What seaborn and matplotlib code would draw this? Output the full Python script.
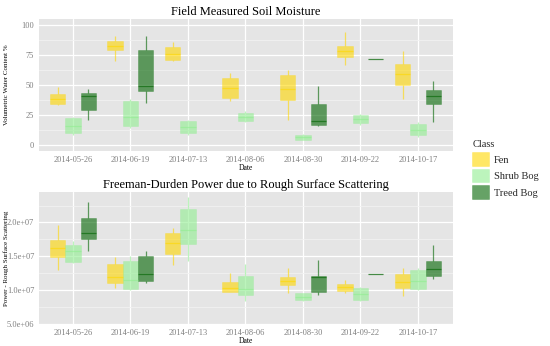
import numpy as np
import pandas as pd
import matplotlib
matplotlib.use("Agg")
import matplotlib.pyplot as plt
from matplotlib.patches import Patch
from matplotlib.colors import to_rgba
import seaborn as sns

# ---------------- data (five-number summaries: low whisker, Q1, median, Q3, high whisker)
dates = ['2014-05-26', '2014-06-19', '2014-07-13', '2014-08-06',
         '2014-08-30', '2014-09-22', '2014-10-17']
classes = ['Fen', 'Shrub Bog', 'Treed Bog']

sm_fen = [[33, 34.5, 38, 42.5, 48], [70, 79, 82.7, 86.4, 90.5], [70, 70.8, 75.8, 81.4, 85.5],
          [37, 38.8, 47.5, 55.5, 60], [20.5, 37.2, 47, 58, 62.7], [67, 73, 78, 82.2, 93.8],
          [38.6, 50.2, 59.4, 67.7, 78]]
sm_shrub = [[8, 9.7, 16, 22.5, 23], [14, 15.5, 23.5, 37, 38], [8, 9.7, 14.7, 20, 21],
            [19, 20, 23, 26.3, 28], [4, 4.4, 6.5, 8.6, 9], [17, 18.3, 21.7, 25.2, 26],
            [7, 8.6, 12.7, 17.5, 19]]
sm_treed = [[20.5, 29.2, 40.8, 43, 47], [35, 45.2, 49, 79, 90.5], None, None,
            [15.5, 17, 20.3, 34.4, 49.4], [71.5, 71.5, 71.5, 71.5, 71.5],
            [19, 34.4, 40.8, 46, 53.3]]

pw_fen = [[12.9e6, 14.8e6, 16.2e6, 17.33e6, 19.6e6], [10.35e6, 11.0e6, 11.9e6, 13.8e6, 14.9e6],
          [13.7e6, 15.3e6, 17.0e6, 18.46e6, 19.1e6], [9.7e6, 9.7e6, 10.35e6, 11.1e6, 12.5e6],
          [9.55e6, 10.8e6, 11.3e6, 11.9e6, 13.3e6], [9.5e6, 9.85e6, 10.45e6, 10.9e6, 11.5e6],
          [9.1e6, 10.35e6, 11.2e6, 12.3e6, 13.3e6]]
pw_shrub = [[14.0e6, 14.2e6, 15.7e6, 16.7e6, 17.2e6], [10.0e6, 10.2e6, 11.4e6, 14.26e6, 15.0e6],
            [14.26e6, 16.8e6, 18.9e6, 22.0e6, 23.8e6], [8.3e6, 9.2e6, 10.2e6, 12.0e6, 13.8e6],
            [8.4e6, 8.47e6, 9.0e6, 9.47e6, 9.6e6], [8.4e6, 8.5e6, 9.4e6, 10.3e6, 10.5e6],
            [10.0e6, 10.06e6, 11.3e6, 13.0e6, 13.2e6]]
pw_treed = [[15.7e6, 17.6e6, 18.5e6, 20.7e6, 23.0e6], [10.95e6, 11.3e6, 12.4e6, 15.0e6, 15.75e6],
            None, None, [9.3e6, 9.66e6, 11.84e6, 12.0e6, 14.5e6],
            [12.3e6, 12.3e6, 12.3e6, 12.3e6, 12.3e6], [11.55e6, 12.0e6, 13.07e6, 14.3e6, 16.6e6]]

sm_yticks = [0, 25, 50, 75, 100]
sm_yticklabels = ['0', '25', '50', '75', '100']
pw_yticks = [5e6, 1e7, 1.5e7, 2e7]
pw_yticklabels = ['5.0e+06', '1.0e+07', '1.5e+07', '2.0e+07']

titles = ['Field Measured Soil Moisture', 'Freeman-Durden Power due to Rough Surface Scattering']
ylabels = ['Volumetric Water Content %', 'Power - Rough Surface Scattering']


def build(series_list):
    rows = []
    for cls, series in zip(classes, series_list):
        for d, vals in zip(dates, series):
            if vals is None:
                continue
            for v in vals:
                rows.append({'Date': d, 'Class': cls, 'value': v})
    return pd.DataFrame(rows)


df_sm = build([sm_fen, sm_shrub, sm_treed])
df_pw = build([pw_fen, pw_shrub, pw_treed])

# ---------------- style
base = {'Fen': '#FFD700', 'Shrub Bog': '#90EE90', 'Treed Bog': '#006400'}
ALPHA = 0.6
BG = '#E5E5E5'
serif = ['Liberation Serif', 'DejaVu Serif']

sns.set_theme(style='darkgrid')
plt.rcParams['font.family'] = serif

W, H = 550, 346
fig = plt.figure(figsize=(W / 100, H / 100), dpi=100)


def axrect(l, t, r, b):
    return [l / W, 1 - b / H, (r - l) / W, (b - t) / H]


ax1 = fig.add_axes(axrect(39, 19, 453, 151))
ax2 = fig.add_axes(axrect(39, 192, 453, 324))


def draw(ax, df, ylim, yticks, yticklabels, minor, title, ylabel):
    ax.set_facecolor(BG)
    pal = {c: to_rgba(base[c], ALPHA) for c in classes}
    sns.boxplot(data=df, x='Date', y='value', hue='Class', order=dates,
                hue_order=classes, palette=pal, width=0.8, gap=0,
                whis=(0, 100), showcaps=False, showfliers=False,
                saturation=1, legend=False, ax=ax, linewidth=0.8)
    for cont, cls in zip(ax.containers, classes):
        lc = to_rgba(base[cls], ALPHA)
        for b in cont.boxes:
            b.set_facecolor(lc)
            b.set_edgecolor(to_rgba(base[cls], 0.35))
            b.set_linewidth(0.5)
        for ln in list(cont.whiskers) + list(cont.medians):
            ln.set_color(lc)
            ln.set_linewidth(0.9)
    ax.set_xlim(-0.59, 6.61)
    ax.set_ylim(*ylim)
    ax.set_yticks(yticks)
    ax.set_yticklabels(yticklabels)
    ax.set_yticks(minor, minor=True)
    ax.grid(True, which='major', color='white', linewidth=0.9)
    ax.grid(True, which='minor', axis='y', color='#F2F2F2', linewidth=0.6)
    ax.set_axisbelow(True)
    for s in ax.spines.values():
        s.set_visible(False)
    ax.tick_params(axis='both', which='major', length=2, width=0.5, color='#7F7F7F',
                   labelcolor='#7F7F7F', labelsize=6, pad=1.5)
    ax.tick_params(axis='both', which='minor', length=0)
    ax.set_title(title, fontsize=9, pad=3, color='black')
    ax.set_ylabel(ylabel, fontsize=5, color='black')
    ax.yaxis.set_label_coords(-0.072, 0.5)
    ax.set_xlabel('Date', fontsize=5.5, color='black', labelpad=0)
    ax.xaxis.set_label_coords(0.5, -0.095)


draw(ax1, df_sm, (-5, 105), sm_yticks, sm_yticklabels, [12.5, 37.5, 62.5, 87.5],
     titles[0], ylabels[0])
draw(ax2, df_pw, (4.95e6, 2.45e7), pw_yticks, pw_yticklabels,
     [7.5e6, 1.25e7, 1.75e7, 2.25e7], titles[1], ylabels[1])

handles = [Patch(facecolor=to_rgba(base[c], ALPHA), edgecolor=to_rgba(base[c], 0.35),
                 linewidth=0.5) for c in classes]
leg = fig.legend(handles, classes, title='Class', loc='upper left',
                 bbox_to_anchor=(465 / W, 1 - 133 / H), frameon=False,
                 fontsize=7.5, title_fontsize=7.5, handlelength=1.6, handleheight=1.6,
                 labelspacing=0.3, handletextpad=0.5, borderpad=0.2)
leg._legend_box.align = 'left'

fig.savefig('out.png', dpi=100)
